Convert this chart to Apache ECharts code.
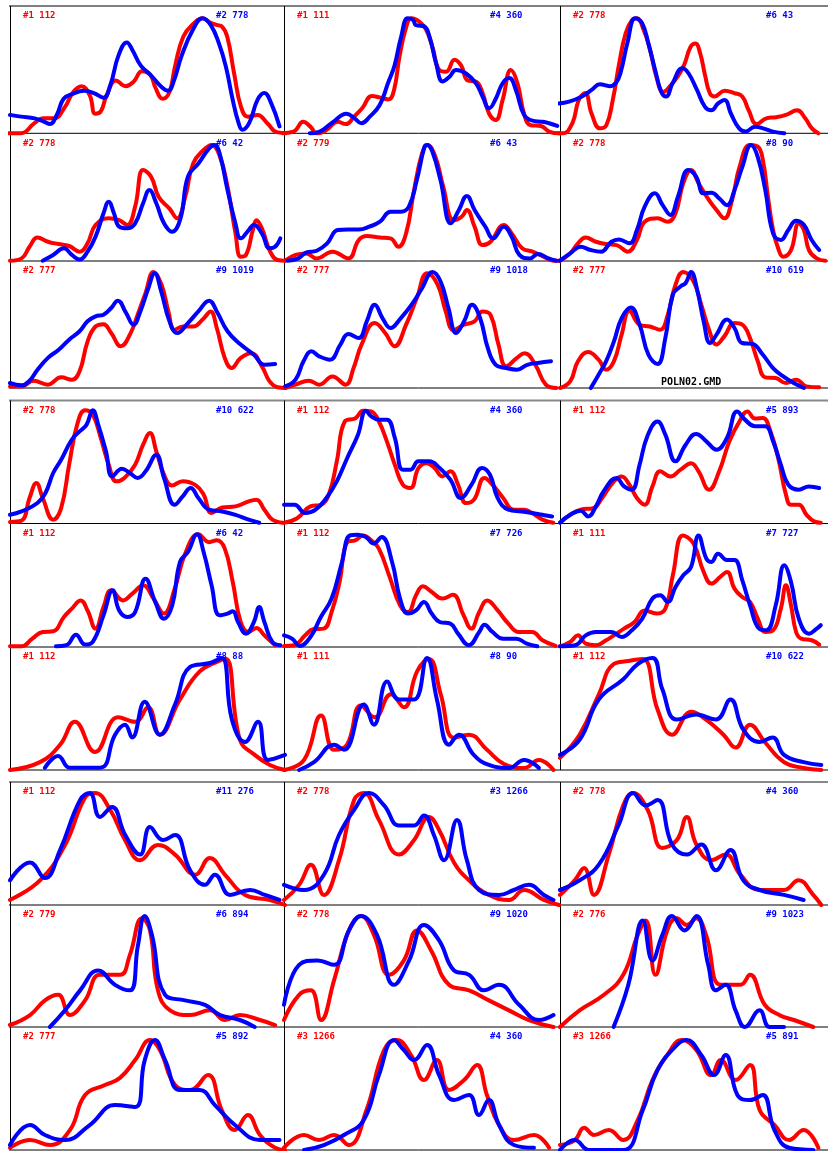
<!DOCTYPE html>
<html><head><meta charset="utf-8">
<script src="https://cdn.jsdelivr.net/npm/echarts@6/dist/echarts.min.js"></script>
<style>html,body{margin:0;padding:0;background:#fff}#chart{width:828px;height:1151px}</style>
</head><body><div id="chart"></div>
<script>
// Profile pairs: [position across panel (0-100), relative intensity (0-100)]
const a1Red = [[-3,0],[4,0],[9,9],[12,13],[16,13],[20,23],[23,36],[26,41],[29,33],[31,17],[33,19],[35,32],[38.5,46],[42,41],[45,45],[48,54],[51,51],[53,39],[55.5,30],[58,36],[60,58],[63,84],[67,96],[70,100],[73,96],[75.5,94],[77,93],[79,84],[81.5,52],[84,23],[86.5,14.5],[90,16],[93.5,9],[97,1],[102,0]];
const a1Blue = [[0,16],[4,14.5],[9,13],[12.5,10],[14.5,8],[17,16],[19.5,30],[22.5,34],[27,37],[30.5,35],[34,31],[36.5,42],[39.5,68],[42.5,79],[44.5,72.5],[47.5,59],[51,51],[55,40.5],[57.5,37],[59.5,45],[62.5,68],[66.5,90],[70,100],[73,94],[76,78],[78.5,58],[81,29],[83,10],[84.5,3],[87,9],[90,29],[92.5,35],[95,26],[98,6]];
const a2Red = [[-1.5,0],[3.5,1.5],[7,10],[9.5,6],[12,0],[15.5,3],[19.5,10],[22.5,8],[25.5,14.5],[28.5,22],[32,32.5],[35,31],[38,29.5],[40,37.5],[42,66.7],[44.5,93],[46.3,100],[49.3,97],[51.7,90],[54,75],[56.5,55],[59,53.6],[62,64],[64.4,59],[66.8,46],[69.8,45],[72.2,35],[74.6,17],[77,11.6],[79.5,29],[82.5,55],[84.9,43.5],[87.3,17],[89.7,7],[93.4,6.4],[96.4,1.5],[100,0],[103.6,1.5]];
const a2Blue = [[9.4,0],[13,1.5],[17.9,10],[22.7,17],[25.7,13],[28.1,8.7],[31.2,14.5],[34.8,24.6],[37.8,43.5],[40.2,59],[42.6,84],[45,100],[46.9,98.5],[48,94],[51,93],[52.9,84],[55.3,61],[57.7,45],[60.1,49],[62.6,55],[66.2,52],[69.8,43.5],[72.2,32],[74.6,21.7],[77,30],[79.5,43.5],[81.9,48],[84.3,37.7],[87.3,16],[90.3,11],[94,10],[96.4,8.7],[99.4,6.4]];
const a3Red = [[-3.9,0.5],[1,0],[4.6,8.7],[7,29],[9.4,35],[11.8,17],[14.9,4.3],[17.3,7],[19.7,29],[22.1,61],[24.5,87],[26.9,98.5],[28.7,100],[31.2,90],[33.6,72.5],[36,49],[38.5,36],[40.9,40.5],[43.8,49],[46.3,59.4],[48.7,75],[50.5,78],[52.3,69.6],[54.1,50.7],[55.9,34.8],[57.7,32],[61.4,37],[65,35],[68,32],[70.4,20],[73.4,8],[77,13],[80.7,14],[84.3,16],[88.5,20],[91.5,13],[94,4.3],[96.4,0]];
const a3Blue = [[-0.5,26],[3.4,27.5],[8.2,32],[11.8,37.7],[14.9,42.6],[18.5,41],[20.9,44],[22.7,53.6],[25.1,78],[28.1,100],[30.6,96],[33,78],[35.5,55],[37.8,36],[39.6,32],[42,43.5],[45.7,56.5],[48,52],[51.1,37.7],[54.1,23],[56.5,20],[59,26],[61.4,29],[63.8,17],[66.8,4.3],[69.2,1.5],[72.8,5.8],[75.8,4.3],[79.5,1.5],[83.7,0]];

const b1Red = [[0,0],[4.2,2],[7.1,12],[10,20],[13.8,16.4],[17.6,14.4],[21.5,12.7],[25.3,7.8],[28.2,15],[31.1,30.8],[35.9,36.6],[39.7,35],[42.6,30.8],[45.5,46.7],[48.4,78.4],[51.3,72.6],[54.1,55],[58,45],[60.8,36.6],[63.7,55],[66.6,84],[70.4,95.7],[73.3,100],[76.2,91],[79.1,64],[82,23.6],[83.9,3.5],[85.8,5],[88.3,26.5],[89.6,35],[91.6,28],[94.4,9],[97.3,0.6],[100,0]];
const b1Blue = [[11.9,0],[15.7,5],[19.6,10.7],[22.5,5],[25.3,1],[28.2,7.8],[31.1,20.7],[34,41],[35.9,51],[37.8,41],[39.7,29.4],[42.6,28],[45.5,32.3],[48.4,49.6],[50.7,61],[53.2,49.6],[56,32.3],[58.9,25],[62,36.6],[64.7,72.6],[68.5,84],[72.4,97],[74.3,100],[76.2,93],[79.1,61],[82,32],[83.9,19.3],[86.8,26.5],[88.7,31],[91.6,23.6],[94.4,10.7],[96.4,12],[98.3,19.3]];
const b2Red = [[0.4,0],[4.2,5],[8,6.3],[11.9,2],[17.6,7.8],[23.4,2],[27.2,17.9],[30.1,21.3],[34.9,20],[38.7,19.3],[41.6,12],[44.4,23.6],[47.3,61],[50.2,92.8],[52.1,100],[55,90],[57.9,64],[61.7,35],[64.6,38],[66.5,43.8],[69.3,29.4],[72.2,13.5],[75.1,16.4],[79.9,30.8],[82.8,23.6],[86.6,10.7],[90.4,7.8],[94.3,3.5],[98.1,0],[101,0]];
const b2Blue = [[1.3,0],[5.2,2],[8,7],[11.9,8.6],[15.7,15],[19.5,26.5],[23.4,27],[27.2,27],[31,29.4],[34.9,33.7],[38.7,42.4],[42.5,42.4],[45.4,46.7],[48.3,69.7],[51.1,98.6],[52.1,100],[54,94],[56.9,69.7],[60.7,32.3],[63.6,43.8],[66.5,56],[69.3,43.8],[73.2,29.4],[76.1,19.3],[79.9,29.4],[82.8,20.7],[85.6,5],[89.5,2],[92.3,5.8],[96.2,2],[99,0]];
const b3Red = [[0,0],[3.8,6.3],[6.7,15],[9.6,20],[13.4,16.4],[17.2,14.4],[21.1,13.5],[25.3,7.8],[28.7,17.9],[31.6,33.7],[36.4,36.6],[40.2,33.7],[43.1,41],[46,67],[48.9,78.4],[51.7,67],[55.6,52.4],[58.4,43.8],[61.3,36.6],[64.2,52.4],[67,81],[70.9,100],[73.8,98.6],[75.7,87],[77.6,55],[79.5,26.5],[81.4,10.7],[83.3,3.5],[86.2,9.2],[89.1,32.3],[91,26.5],[92.9,9.2],[95.8,2],[99,0]];
const b3Blue = [[0,0],[3.8,6.3],[7.7,12],[11.5,9.2],[15.3,7.8],[19.2,16.4],[22,18.4],[25.9,15],[28.7,26.5],[31.6,46.7],[35.4,58.2],[38.3,48],[41.2,39.5],[44,55.3],[47.9,78.4],[50.8,72.6],[53.6,58.2],[56.5,58.8],[59.4,53.9],[62.3,48],[65.1,61],[68,81],[71.3,100],[73.8,89.6],[76.6,61],[79.5,23.6],[82.4,17.9],[85.2,26.5],[88.1,34.6],[91,31],[93.9,17.9],[96.7,9.2]];

const c1Red = [[0,1.4],[4.2,1.4],[8.6,6.3],[13.8,2.9],[18.6,9.2],[22.5,7.2],[25.3,14.4],[28.2,40],[31.1,53],[34,55],[36.8,47.4],[40.3,36],[43.6,46],[46.4,63],[49.3,82],[52.2,100],[55.1,89],[57.6,66],[59.8,50],[62.8,53],[66.6,53],[70.4,60],[72.9,66],[75.2,51.7],[78.1,25.9],[80.6,17.2],[83.9,25.9],[87.7,30],[91.6,18.7],[94.4,5.7],[97.3,0.6],[100.2,0]];
const c1Blue = [[0,4.3],[4.2,2.3],[7.1,6.3],[10,15.8],[13.8,26],[17.7,33],[21.5,41.7],[25.3,48.9],[28.2,57.5],[31.1,61.8],[34,63.2],[36.8,69],[39.2,75.3],[42.2,64.7],[44.9,54.6],[47.4,66],[50.3,86],[52.6,99],[55,83],[58,57.5],[60.8,47.4],[64.7,56],[68.5,66],[72.4,75.3],[75.2,66],[79.1,48.9],[83.9,37.4],[88.7,28.7],[92.5,20],[96.4,20.7]];
const c2Red = [[0.4,0],[4.2,2.9],[9,6.3],[12.8,2.9],[17.6,10],[22.4,2.9],[25.3,17.2],[28.2,37.4],[33,56],[36.8,47.4],[40.2,36],[44.4,54.6],[48.3,77.6],[52.1,99],[55.9,89],[58.8,66],[61.7,50],[65.5,54.6],[69.3,57.5],[72.2,66],[75.1,63],[78,37.4],[80.8,18.7],[84.7,25.9],[87.5,30],[91.4,20],[95.2,2.9],[99,0]];
const c2Blue = [[0.4,1.4],[4.2,7.2],[7.1,23],[10,31.6],[12.8,27.3],[16.7,24.4],[20.5,37.4],[23.4,46.5],[27.2,43],[30.1,57.5],[33,71.8],[35.8,60.3],[38.7,51.7],[42.5,60.3],[46.4,71.8],[50.2,86],[54,100],[56.9,92],[59.8,69],[62.6,47.4],[65.5,57.5],[68.4,71.8],[71.3,60.3],[74.1,34.5],[77,20],[80.8,17.2],[84.7,15.8],[88.5,20],[92.3,21.6],[97.1,23]];
const c3Red = [[0,0],[3.8,5.7],[6.7,23],[10.5,31],[14.4,24.4],[17.2,15.8],[20.1,23],[23,46],[25.9,66.7],[29.7,54.6],[33.5,53],[37.4,50.3],[40.2,63],[43.1,89],[46,100],[49.8,92],[52.7,71.8],[55.6,50.3],[58.4,37.4],[61.3,44.5],[65.1,56],[68,54.6],[70.9,43],[73.8,23],[76.6,9.2],[80.5,8.6],[84.3,4.3],[88.1,7.2],[92,1.4],[96.7,0.6]];
const c3Blue = [[11.5,0],[14.4,11.5],[17.2,23],[20.1,40],[23,60.3],[26.4,69.5],[29.7,54.6],[33,28.7],[36.4,20.7],[39.3,43],[42.1,80.5],[45,87.6],[46.9,90.5],[48.9,100],[51.3,83.3],[53.6,57.5],[56,38.8],[58.4,46],[62.3,59],[65.1,51.7],[68,38.8],[71.8,38],[75.7,28.7],[79.5,17.2],[83.3,10],[87.2,4.3],[91,0]];

const d1Red = [[0,0.6],[4.2,1.8],[7.1,22],[9.6,35.3],[11.9,22],[15.7,2.7],[18.6,13],[21.5,51.6],[24.4,87],[27.3,100],[30.1,96],[33,75.4],[35.9,51.6],[38.7,36.8],[41.6,39.8],[45.5,51.6],[48.4,69.4],[50.9,79.8],[53.2,63.5],[56,42.7],[58.9,33.2],[62.8,36.8],[67.6,33.2],[70.4,25],[73.3,8.6],[77.2,13.6],[82,14.5],[86.8,19],[89.6,20.5],[92.5,11.6],[95.4,2.7],[99.2,0]];
const d1Blue = [[0,7],[4.2,10],[10,17.5],[12.9,26.4],[15.7,44.2],[18.6,56],[22.5,74],[25.3,81.3],[27.8,87],[30.1,100],[32.1,87],[34.9,63.5],[37.2,41.2],[40.7,48],[43.6,44.2],[46.4,39.8],[49.3,45.7],[53.2,60.5],[56,39.8],[59.9,16],[62.8,23.4],[65.7,30.9],[68.5,22],[72.4,11.6],[77.2,10],[82,7],[86.8,2.7],[90.6,0]];
const d2Red = [[0,0],[4.8,4],[9.6,14.5],[13.4,16],[16.3,25],[19.2,54.6],[22.1,90],[26,93],[28.8,99.7],[31.7,99],[34.5,90],[37.4,72.4],[40.3,51.6],[43.2,33.8],[46,30.9],[48.9,48.7],[51.8,53],[54.7,48.7],[57.6,41.2],[60.5,45.7],[63.3,33.8],[66.2,17.5],[69.1,20.5],[72.9,39.8],[75.8,33.8],[79.7,22],[83.5,11.6],[87.3,11.6],[90.2,8.6],[94,2.7],[97.9,0]];
const d2Blue = [[0,16],[3.8,16],[7.7,8.6],[11.5,11.6],[15.4,22],[19.2,36.8],[23,57.6],[26.9,78.3],[29.8,99.7],[31.7,94.6],[34.5,91.7],[37.4,91.7],[40.3,75.4],[43.2,47.2],[46,47.2],[48.9,54.6],[52.8,54.6],[56.6,48.7],[60.5,38.3],[64.3,22],[68.2,33.8],[72,48.7],[74.9,42.7],[77.7,22],[81.6,11.6],[86.4,10],[90.2,8.6],[94,7],[97.5,5.6]];
const d3Red = [[0,0],[3.8,7],[7.7,11.6],[12.5,13],[15.3,20.5],[20.1,36.8],[23,41.2],[25.9,33.8],[28.7,22],[31.6,16],[34.5,32.3],[37.4,45.7],[41.2,41.2],[45,47.2],[48.9,53],[51.7,45.7],[55.6,29.4],[59.4,45.7],[63.2,72.4],[67,90.2],[69.9,99],[72.8,92.6],[75.7,93.2],[78.5,81.3],[81.4,57.6],[84.3,25],[86.2,16],[89.1,16],[92,7],[94.8,1.2],[97.3,0]];
const d3Blue = [[0,0],[3.8,7],[7.7,10.7],[10.5,5.6],[13.4,14.5],[16.3,28],[21.1,39.8],[23.9,32.3],[26.8,29.4],[29.7,51.6],[32.6,77],[36.4,90],[39.3,78.3],[43.1,54.6],[46.9,69.4],[50.8,79],[54.6,72.4],[58.4,65],[62.3,75.4],[66.1,99],[69,91.7],[72.8,85.8],[76.6,85.8],[79.5,72.4],[82.4,51.6],[85.2,33.8],[89.1,29.4],[92.9,32.3],[96.7,30.9]];

const e1Red = [[0,0],[4.2,0],[8.1,6.8],[11.9,12.8],[15.7,13.4],[19.6,26.2],[22.5,33.6],[25.7,41],[28.2,32],[31.1,15.8],[34,35],[36.8,50],[41.1,41],[44.5,47],[48.4,54.5],[52.2,42.6],[56,29.2],[59.9,51.5],[63.7,82.7],[68.5,100],[72.4,93],[75.2,94.6],[78.1,87.2],[81,57.4],[83.9,21.7],[86.8,12.8],[89.6,16.4],[92.5,9.8],[96.4,1]];
const e1Blue = [[16.7,0],[20.5,1],[24,10.4],[27.3,1.5],[30.1,4],[34,27.7],[37.3,50],[39.7,32],[42.6,26.2],[45.5,30.6],[49.3,60.4],[52.8,39.6],[56,24.7],[59,36.6],[61.8,75.3],[64.7,84.2],[68,100],[70.4,84.2],[73.3,54.5],[76.2,27.7],[79.1,29.2],[81,31.3],[82.9,21.7],[85.8,11.3],[88.7,21.7],[90.6,35],[92.5,21.7],[95.4,3.9],[98.3,1]];
const e2Red = [[0,0.3],[3.8,1],[7.7,9.8],[10.6,15.2],[14.4,15.8],[17.3,30.6],[20.2,57.4],[23,93],[25.9,94.6],[28.8,99],[31.7,94.6],[34.5,87.2],[38.4,62],[42.2,36.6],[45.1,30.6],[48,45.5],[50.5,53.6],[53.7,48.5],[57.6,42.6],[61.4,46],[65.3,27.7],[68.1,15.8],[71,30.6],[73.9,41],[77.7,32],[81.6,20.2],[85.4,12.8],[90.2,12.8],[94,5.4],[98.8,0.3]];
const e2Blue = [[0,9.8],[2.9,6.8],[5.8,0.3],[9.6,8.3],[13.4,26.2],[17.3,42.6],[21.1,75.3],[24,99],[26.9,99.7],[29.8,97.6],[32.6,91.7],[35.5,97.6],[39.3,75.3],[42.2,42.6],[45.1,29.2],[48,32],[50.9,39.6],[53.7,29.2],[56.6,21.7],[60.5,20.2],[63.3,11.3],[67.2,1],[71,12.8],[72.9,19.3],[75.8,12.8],[79.7,6.8],[84.5,6.8],[88.3,2.4],[92.1,0]];
const e3Red = [[0,0],[3.8,3.9],[6.7,9.8],[9.6,2.4],[13.4,1],[17.2,5.4],[20.1,9.8],[23.9,15.8],[27.8,21.7],[31.6,32],[36,29.2],[39.3,33.6],[42.1,63.4],[45.9,99],[49.8,91.7],[53.6,66.4],[56.5,56],[59.8,62],[62.3,66.4],[65.1,51.5],[68,44],[70.9,39.6],[73.8,24.7],[76.6,12.8],[79.5,14.3],[82.4,33.6],[84.3,54.5],[86.2,36.6],[88.1,12.8],[90,6.8],[93.9,5.4],[96.7,1.5]];
const e3Blue = [[0,0],[5.7,1],[9.6,9.8],[13.4,12.8],[19.2,12.8],[23,8.3],[26.8,14.3],[30.7,24.7],[34.5,42.6],[37.4,45.5],[40.2,39.6],[43.1,53],[46,63.4],[48.9,70.8],[51.7,99],[54.6,78.3],[56.5,75.3],[59,82.7],[62.3,77],[65.1,77],[68,59],[70.9,36.6],[74.3,15.8],[77,14.3],[80.5,36.6],[83.7,72.3],[86.2,57.4],[89.1,24.7],[92.9,11.3],[95.8,15.8],[97.3,18.8]];

const f1Red = [[0,0],[10.9,7],[18.2,22.5],[23.6,43],[30.9,16],[39.3,47],[45.5,43],[50.2,56],[54.5,31.5],[61.8,63],[69,88],[75.6,97],[78.5,99],[83.6,27],[89,13.5],[94.5,4.5],[100,0]];
const f1Blue = [[12.7,2],[17.5,12.6],[21.8,2],[32.7,2],[38.2,31.5],[41.8,40.5],[44.4,29],[49,61],[54.5,31.5],[60,58.5],[65.5,92],[72.7,95.5],[77,100],[80.7,45],[85.5,25],[90.2,43],[93.8,9],[100,13.5]];
const f2Red = [[0,0],[7.3,9],[13.5,48.6],[18.2,18],[22.9,22.5],[28,57.7],[33,47],[38.9,67.6],[43.6,56],[48.4,88],[52.7,99],[57,67.6],[61.8,28.8],[67.3,31.5],[73.8,18],[80,5.4],[87.3,1.8],[92.7,9],[98,0]];
const f2Blue = [[5.5,0],[10.9,7],[18.2,22.5],[21.8,18],[29,58.5],[32.7,40.5],[37.5,79],[41.8,63],[47.3,63],[52,100],[55.6,63],[60,22.5],[63.6,31.5],[69,13.5],[74.5,4.5],[81.8,1.8],[87.3,9],[92.7,1.8]];
const f3Red = [[0,10.8],[7.3,31.5],[14.5,67.6],[20,94.6],[25.5,97.3],[30.9,99],[36.4,54],[41.8,31.5],[49,52],[54.5,45],[61,31.5],[65.5,20],[70.9,40.5],[76.4,25],[83.6,7],[90.9,1.8],[97.5,0]];
const f3Blue = [[0,13.5],[7.3,27],[14.5,63],[23.6,81],[29,94.6],[34.5,100],[38.2,72],[43.6,45],[50.9,49.5],[58.2,45],[63.6,63],[68.4,36],[74.5,25],[79.3,29],[83.6,13.5],[90.9,7],[97.5,4.5]];

const g1Red = [[0,4.5],[10.9,22],[20,53.6],[27.3,96],[30.9,100],[36.4,85],[41.8,58],[47.3,40],[53.8,53.6],[60,45],[67.3,27],[72.7,42],[78.2,27],[85.5,9],[94.5,4.5],[100,0]];
const g1Blue = [[0,22],[7.3,38],[12.7,24],[18.2,49],[25.5,93.8],[29,100],[32.7,78.6],[37.1,87.5],[41.8,63],[47.3,45],[50.9,69.6],[55.6,58],[60,62.5],[65.5,31],[70.9,18],[74.5,27],[80,9],[87.3,13.4],[92.7,9],[98,4.5]];
const g2Red = [[0,4.5],[5.5,18],[9.8,36],[14.5,9],[20,40],[25.5,93.8],[29,100],[34.5,76],[41.8,45],[47.3,58],[52.7,78.6],[56.4,67],[61.8,38],[67.3,22],[74.5,9],[81.8,4.5],[87.3,13.4],[94.5,4.5],[100,0]];
const g2Blue = [[0,18],[7.3,13.4],[14.5,27],[20,62.5],[25.5,85],[30.9,100],[36.4,89],[41.8,71],[47.3,71],[50.9,80],[54.5,62.5],[58.2,40],[62.9,76],[66.5,40],[70.9,13.4],[78.2,9],[83.6,13.4],[89,18],[94.5,9],[98,4.5]];
const g3Red = [[0,9],[5.5,22],[9,33],[12.7,9],[18.2,45],[23.6,89],[27.3,100],[32.7,85],[38.2,51],[43.6,58],[47.3,78.6],[50.9,54],[56.4,40],[61.8,45],[67.3,27],[74.5,13.4],[83.6,13.4],[89,22],[94.5,9],[97.5,0]];
const g3Blue = [[0,13.4],[7.3,22],[14.5,36],[21.8,71],[27.3,100],[32,89],[36.4,93.8],[41.8,54],[47.3,45],[52.7,54],[58.2,31],[63.6,49],[68.4,22],[74.5,13.4],[83.6,9],[90.9,4.5]];

const h1Red = [[0,1.8],[7.3,10.8],[12.7,24],[17.5,29],[21.8,10.8],[27.3,24],[32.7,47],[40,47],[43.6,65],[48,98],[50.9,87],[53.8,33],[58.2,15],[65.5,10.8],[72.7,15],[78.2,6.3],[83.6,10.8],[90.9,6.3],[96.4,1.8]];
const h1Blue = [[14.5,0],[20,15],[25.5,33],[32,51],[38.2,38],[43.6,33],[46.5,73],[49,100],[51.6,83],[56.4,29],[63.6,24],[70.9,20],[76.4,10.8],[83.6,6.3],[89,0]];
const h2Red = [[0,6.3],[5.5,29],[9.8,33],[13.5,6.3],[18.2,42],[23.6,87],[28,100],[32.7,83],[38.2,47],[43.6,60],[48.4,87],[53.5,69],[60,38],[67.3,33],[74.5,24],[81.8,15],[89,6.3],[98,0]];
const h2Blue = [[0,20],[5.5,56],[12,60],[18.2,56],[23.6,87],[28,100],[33.8,83],[40,38],[45.5,60],[50.9,92],[56.4,78],[61.8,51],[67.3,47],[72.7,33],[78.2,38],[85.5,20],[92.7,6.3],[98,10.8]];
const h3Red = [[0,0],[7.3,15],[16.4,29],[23.6,47],[29,83],[32,96],[35.6,47],[40,87],[43.6,98],[47.3,92],[50.9,98],[54.5,83],[60,38],[67.3,38],[70.9,47],[76.4,20],[81.8,10.8],[87.3,6.3],[94.5,0]];
const h3Blue = [[20,0],[25.5,38],[30.9,96],[34.5,60],[38.2,83],[41.8,100],[46.5,87],[50.9,100],[55.3,56],[58.2,33],[61.8,38],[65.5,15],[69,0],[74.5,15],[78.2,0],[83.6,0]];

const i1Red = [[0,2],[7.3,9],[14.5,4.5],[21.8,18],[27.3,49.5],[34.5,58.5],[40,65],[45.5,81],[50.9,99],[54.5,90],[60,58.5],[65.5,54],[72,67.5],[77,36],[81.8,18],[86.5,31.5],[90.9,13.5],[96.4,2],[100,0]];
const i1Blue = [[0,4.5],[7.3,22.5],[12.7,13.5],[20,9],[29,22.5],[38.2,40.5],[45.5,38.7],[49,81],[52.7,99],[56.4,81],[61.8,54],[69,54],[74.5,40.5],[81.8,22.5],[90.9,9],[98,9]];
const i2Red = [[0,2],[7.3,13.5],[12.7,9],[18.2,13.5],[23.6,4.5],[30,36],[36.4,90],[41,99],[46.2,85.5],[50.9,63],[55.6,81],[60,54],[65.5,63],[70.2,76.5],[73.8,49.5],[78.2,22.5],[83.6,9],[90.9,13.5],[96.4,2]];
const i2Blue = [[7.3,0],[14.5,4.5],[21.8,13.5],[29,27],[34.5,67.5],[40,99],[43.6,90],[47.3,81],[52,94.5],[56.4,67.5],[61.8,45],[67.3,49.5],[70.9,31.5],[74.5,45],[78.2,22.5],[83.6,4.5],[90.9,2]];
const i3Red = [[0,4.5],[5.5,9],[9,20],[12.7,13.5],[18.2,18],[23.6,9],[29,27],[34.5,63],[40,85.5],[45.5,99],[50.9,90],[56.4,67.5],[60,81],[65.5,63],[70.9,76.5],[74.5,36],[80,22.5],[85.5,9],[90.9,18],[96.4,2]];
const i3Blue = [[0,0],[5.5,9],[10.9,0],[23.6,0],[30.9,36],[36.4,72],[43.6,94.5],[47.3,99],[52.7,85.5],[57.5,67.5],[61.8,85.5],[66.2,49.5],[70.9,45],[75.6,49.5],[80,18],[85.5,2],[94.5,0]];

// Panel captions (row by row, left to right)
const redLabels = ['#1 112','#1 111','#2 778','#2 778','#2 779','#2 778','#2 777','#2 777','#2 777',
  '#2 778','#1 112','#1 112','#1 112','#1 112','#1 111','#1 112','#1 111','#1 112',
  '#1 112','#2 778','#2 778','#2 779','#2 778','#2 776','#2 777','#3 1266','#3 1266'];
const blueLabels = ['#2 778','#4 360','#6 43','#6 42','#6 43','#8 90','#9 1019','#9 1018','#10 619',
  '#10 622','#4 360','#5 893','#6 42','#7 726','#7 727','#8 88','#8 90','#10 622',
  '#11 276','#3 1266','#4 360','#6 894','#9 1020','#9 1023','#5 892','#4 360','#5 891'];
const fileName = 'POLN02.GMD';

const redSeries = [a1Red,a2Red,a3Red,b1Red,b2Red,b3Red,c1Red,c2Red,c3Red,d1Red,d2Red,d3Red,e1Red,e2Red,e3Red,f1Red,f2Red,f3Red,g1Red,g2Red,g3Red,h1Red,h2Red,h3Red,i1Red,i2Red,i3Red];
const blueSeries = [a1Blue,a2Blue,a3Blue,b1Blue,b2Blue,b3Blue,c1Blue,c2Blue,c3Blue,d1Blue,d2Blue,d3Blue,e1Blue,e2Blue,e3Blue,f1Blue,f2Blue,f3Blue,g1Blue,g2Blue,g3Blue,h1Blue,h2Blue,h3Blue,i1Blue,i2Blue,i3Blue];

// Layout of the three 3x3 blocks
const colLeft = [10, 284, 560];
const colWidth = 275;
const rowTop  = [6, 133.3, 261, 400.5, 523.5, 647, 782, 905, 1027];
const rowPeak = [18.3, 145, 272, 410.3, 534.3, 658, 793, 916, 1039];
const rowBase = [133.3, 260.7, 388, 522.7, 646.3, 770, 905, 1027, 1150];

const grids = [], xAxes = [], yAxes = [], series = [], graphics = [];
for (let i = 0; i < 27; i++) {
  const r = Math.floor(i / 3), c = i % 3;
  grids.push({left: colLeft[c], width: colWidth, top: rowPeak[r], height: rowBase[r] - rowPeak[r]});
  xAxes.push({type: 'value', gridIndex: i, min: 0, max: 100, show: false});
  yAxes.push({type: 'value', gridIndex: i, min: 0, max: 100, show: false});
  [[redSeries[i], '#ff0000', 3], [blueSeries[i], '#0000ff', 4]].forEach(([data, color, z]) => {
    series.push({
      type: 'line', xAxisIndex: i, yAxisIndex: i, data, smooth: 0.45, showSymbol: false,
      clip: false, z, silent: true, lineStyle: {color, width: 4, cap: 'round', join: 'round'}
    });
  });
  graphics.push({type: 'text', x: colLeft[c] + 13, y: rowTop[r] + 10, z: 10,
    style: {text: redLabels[i], fill: '#ff0000', font: 'bold 9px "DejaVu Sans Mono"', align: 'left', verticalAlign: 'middle'}});
  graphics.push({type: 'text', x: colLeft[c] + 206, y: rowTop[r] + 10, z: 10,
    style: {text: blueLabels[i], fill: '#0000ff', font: 'bold 9px "DejaVu Sans Mono"', align: 'left', verticalAlign: 'middle'}});
}

// Frame lines
function hLine(y, color, w) {
  graphics.push({type: 'line', z: 1, shape: {x1: 9, y1: y, x2: 828, y2: y}, style: {stroke: color, lineWidth: w}});
}
function vLine(x, y1, y2) {
  graphics.push({type: 'line', z: 1, shape: {x1: x + 0.5, y1, x2: x + 0.5, y2}, style: {stroke: '#000', lineWidth: 1}});
}
for (let b = 0; b < 3; b++) {
  const r0 = b * 3;
  hLine(rowTop[r0], b === 0 ? '#000' : '#888', b === 0 ? 1 : 2);
  hLine(rowTop[r0 + 1], '#000', 1);
  hLine(rowTop[r0 + 2], '#000', 1);
  hLine(rowBase[r0 + 2], '#000', 1);
  colLeft.forEach(x => vLine(x, rowTop[r0], rowBase[r0 + 2]));
}
graphics.push({type: 'text', x: 661, y: 382, z: 10,
  style: {text: fileName, fill: '#000', font: 'bold 10px "DejaVu Sans Mono"', align: 'left', verticalAlign: 'middle'}});

const chart = echarts.init(document.getElementById('chart'), null, {renderer: 'canvas'});
chart.setOption({
  animation: false,
  backgroundColor: '#fff',
  grid: grids, xAxis: xAxes, yAxis: yAxes, series,
  graphic: {elements: graphics}
});
</script></body></html>
